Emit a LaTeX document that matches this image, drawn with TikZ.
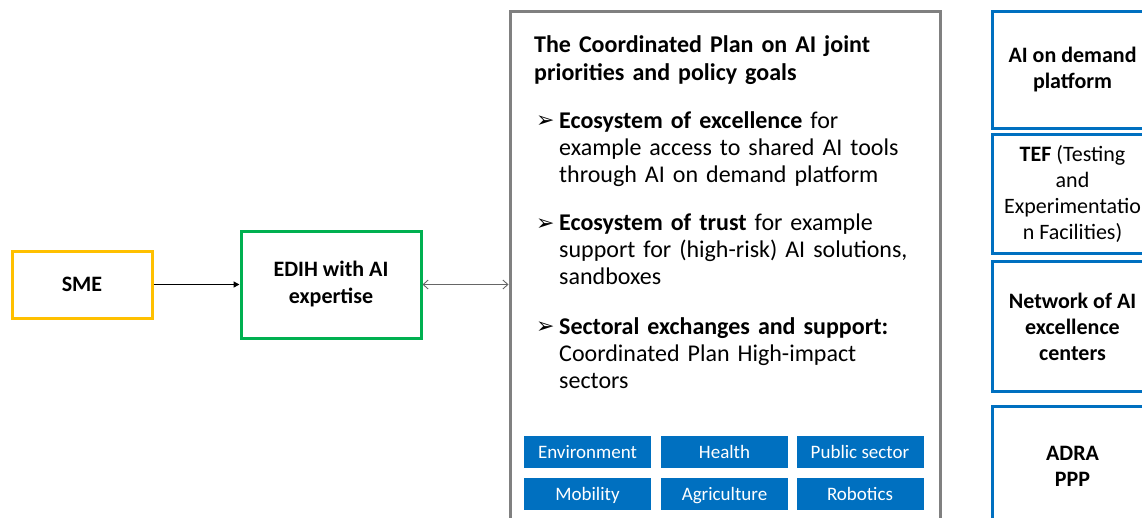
\documentclass[tikz,border=0pt]{standalone}
\usepackage{fontspec}
\setmainfont{Carlito}
\newfontfamily\symfont{DejaVu Sans}
\usetikzlibrary{arrows.meta}
\definecolor{smeyellow}{HTML}{FFC000}
\definecolor{edihgreen}{HTML}{00B050}
\definecolor{planblue}{HTML}{0070C0}
\definecolor{framegray}{HTML}{808080}
\newcommand{\arrowbullet}{{\symfont\fontsize{22}{26}\selectfont ➢}}
\begin{document}
\begin{tikzpicture}[x=1pt, y=-1pt,
    leftbox/.style={draw, line width=3pt, align=center, font=\fontsize{22}{27}\selectfont\bfseries},
    sectorbox/.style={fill=planblue, text=white, minimum width=127pt, minimum height=32pt, inner sep=0pt, text height=13.5pt, text depth=0.5pt, font=\fontsize{19}{22}\selectfont},
    sidebox/.style={draw=planblue, line width=3pt, align=center, minimum width=160pt, anchor=north west, font=\fontsize{22}{26}\selectfont},
    bullettext/.style={anchor=north west, align=left, inner sep=0pt, text width=380pt, font=\fontsize{24}{27}\selectfont},
    bulletmark/.style={anchor=west, inner sep=0pt}]
    \clip (0,0) rectangle (1142,517);
    \useasboundingbox (0,0) rectangle (1142,517);

    % left side
    \node[leftbox, draw=smeyellow, minimum width=140pt, minimum height=67pt] (sme) at (82,284.5) {SME};
    \node[leftbox, draw=edihgreen, minimum width=180pt, minimum height=107pt] (edih) at (331,284.5) {EDIH with AI\\expertise};

    % coordinated plan frame
    \draw[framegray, line width=3pt] (510,530) -- (510,11) -- (940,11) -- (940,530);
    \coordinate (planleft) at (508.5,284.5);
    \draw[-{Triangle[length=6pt,width=6pt]}, line width=1.6pt] (sme.east) -- (edih.west);
    \draw[{Straight Barb[length=5pt,width=9pt]}-{Straight Barb[length=5pt,width=9pt]}, black!60, line width=0.9pt] (edih.east) -- (planleft);

    \node[bullettext, font=\fontsize{24}{28}\selectfont\bfseries] (title) at (534,35) {The Coordinated Plan on AI joint\\priorities and policy goals};

    \node[bulletmark] (b1) at (536,122) {\arrowbullet};
    \node[bullettext] (t1) at (559,111) {\textbf{Ecosystem of excellence} for\\example access to shared AI tools\\through AI on demand platform};
    \node[bulletmark] (b2) at (536,225) {\arrowbullet};
    \node[bullettext] (t2) at (559,214) {\textbf{Ecosystem of trust} for example\\support for (high-risk) AI solutions,\\sandboxes};
    \node[bulletmark] (b3) at (536,328) {\arrowbullet};
    \node[bullettext] (t3) at (559,317) {\textbf{Sectoral exchanges and support:}\\Coordinated Plan High-impact\\sectors};

    % high-impact sectors
    \node[sectorbox] (env) at (587.5,452) {Environment};
    \node[sectorbox] (health) at (724.5,452) {Health};
    \node[sectorbox] (public) at (860,452) {Public sector};
    \node[sectorbox] (mob) at (587.5,493.5) {Mobility};
    \node[sectorbox] (agri) at (724.5,493.5) {Agriculture};
    \node[sectorbox] (robot) at (860,493.5) {Robotics};

    % right column
    \node[sidebox, minimum height=117pt] (aod) at (991,10) {\bfseries AI on demand\\\bfseries platform};
    \node[sidebox, minimum height=119pt] (tef) at (991,133) {\textbf{TEF} (Testing\\and\\Experimentatio\\n Facilities)};
    \node[sidebox, minimum height=130pt] (net) at (991,260) {\bfseries Network of AI\\\bfseries excellence\\\bfseries centers};
    \node[sidebox, minimum height=120pt] (adra) at (991,405) {\bfseries ADRA\\\bfseries PPP};
\end{tikzpicture}
\end{document}
